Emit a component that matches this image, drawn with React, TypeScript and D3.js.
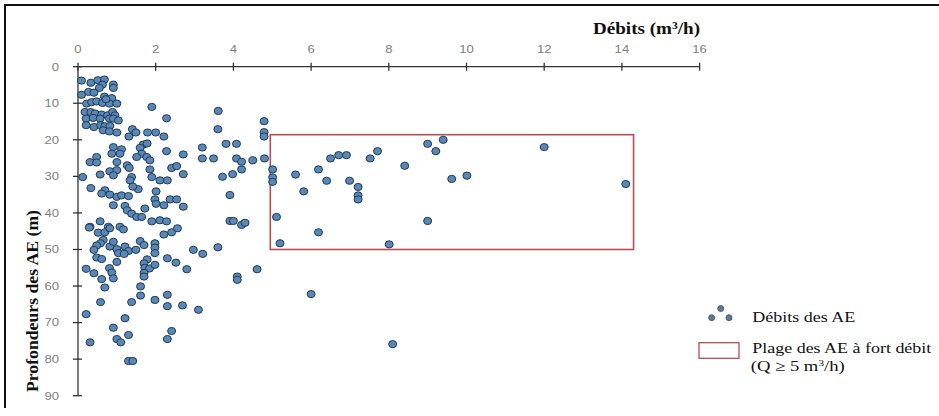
import React from "react";
import * as d3 from "d3";

// Débits (m3/h) and depths (m) of the AE wells
const debits: number[] = [
  0.09, 0.33, 0.51, 0.68, 0.63, 0.55, 0.91, 0.91, 0.09, 0.27, 0.41, 0.68, 0.87, 0.22, 0.35, 0.48, 0.63, 0.81, 1.0, 0.72,
  0.18, 0.33, 0.44, 0.61, 0.76, 0.89, 0.95, 0.81, 0.21, 0.39, 0.57, 0.91, 1.04, 0.21, 0.41, 0.58, 0.69, 0.82, 0.65, 0.81, 1.0,
  1.9, 2.28, 3.61, 3.6, 4.79, 4.79, 4.79,
  1.4, 1.49, 1.31, 1.79, 2.0, 2.21,
  0.91, 1.12, 1.08, 0.87,
  1.68, 1.78, 1.6, 1.64, 1.77, 1.85, 2.28, 1.51,
  0.48, 0.31, 0.48, 1.0, 1.27, 1.32,
  0.12, 0.57, 0.82, 1.0, 0.91, 1.38, 1.34, 1.85, 1.9, 2.11, 2.3, 2.41, 2.54,
  2.71, 3.2, 3.2, 3.49, 3.81, 4.08, 4.08, 4.21, 4.5, 4.8, 4.21, 3.98, 3.72, 2.71,
  0.33, 0.69, 0.61, 0.82, 1.0, 1.12, 1.3, 1.55, 2.01, 1.98, 2.01, 2.21, 2.37, 2.54, 0.91, 1.21, 1.27, 1.38, 1.51, 1.64, 1.72,
  1.9, 2.11, 2.28, 0.57, 0.31, 0.78, 1.08, 1.17,
  2.71, 3.91, 3.91, 4.0, 4.21, 4.3, 1.41,
  5.01, 5.01, 5.01, 5.6, 5.81, 6.19, 6.4, 6.5, 6.71, 6.91, 6.99, 7.21, 7.21, 7.21, 7.52, 7.71, 8.41, 9.0, 9.21, 9.4, 9.62,
  10.01, 5.11, 6.19, 5.2, 8.01, 9.0, 4.61, 6.0, 8.1, 12.0, 14.1,
  0.29, 0.52, 0.69, 0.82,
  0.65, 0.58, 0.48, 0.41, 0.48, 0.61,
  0.82, 0.91, 1.0, 1.04, 1.0, 1.21, 1.3, 1.49, 1.6, 1.19,
  1.7, 1.98, 1.98, 1.98, 2.21, 2.41, 2.56,
  0.21, 0.41, 0.61, 0.69, 0.81, 0.87, 0.91,
  1.78, 1.7, 1.72, 1.84, 1.7, 1.7, 1.98, 2.3, 2.52, 1.61, 1.61, 1.98, 2.3, 2.3, 1.38,
  0.58, 0.21, 0.91, 1.21, 1.0, 1.1, 1.3, 0.31,
  2.41, 2.3, 1.3, 1.41,
  2.97, 3.21, 3.6, 2.8, 4.1, 4.1, 3.1, 2.69,
];

const profondeurs: number[] = [
  3.8, 4.4, 3.7, 3.5, 4.9, 5.8, 4.9, 5.8, 7.7, 6.9, 7.1, 8.2, 8.6, 10.1, 9.7, 9.5, 9.9, 10.1, 10.1, 8.9,
  12.4, 12.4, 12.8, 13.1, 13.3, 12.4, 13.3, 14.2, 14.2, 14.0, 14.2, 14.2, 14.7, 16.0, 16.5, 16.0, 16.3, 16.2, 17.4, 17.7, 18.0,
  11.0, 14.1, 12.1, 17.1, 14.9, 17.9, 19.1,
  17.1, 18.0, 19.1, 18.0, 18.0, 19.1,
  22.0, 22.6, 23.8, 23.8,
  21.3, 21.0, 22.2, 23.8, 24.7, 25.6, 23.1, 24.7,
  24.7, 26.1, 26.2, 26.1, 27.0, 27.7,
  30.2, 29.5, 28.6, 28.3, 29.7, 30.2, 31.1, 28.1, 30.2, 31.1, 31.1, 27.7, 27.2,
  24.0, 22.1, 25.1, 25.1, 21.1, 21.1, 25.1, 26.0, 25.6, 25.1, 28.1, 29.4, 30.1, 29.4,
  33.2, 33.8, 34.7, 35.0, 35.6, 35.2, 35.4, 33.5, 34.1, 36.3, 37.5, 37.9, 36.3, 36.3, 37.9, 38.1, 39.3, 40.2, 41.1, 41.1, 38.8,
  42.3, 42.0, 42.3, 42.3, 43.8, 43.8, 43.8, 44.5,
  38.3, 35.1, 42.2, 42.2, 43.3, 42.7, 32.8,
  28.1, 30.3, 31.5, 29.5, 34.1, 28.1, 31.2, 25.1, 24.2, 24.2, 31.2, 32.9, 35.2, 36.3, 25.1, 23.1, 27.1, 21.1, 23.1, 20.0, 30.7,
  29.8, 41.1, 45.3, 48.3, 48.6, 42.2, 55.4, 62.2, 75.9, 22.0, 32.1,
  44.0, 45.4, 45.3, 44.2,
  47.4, 48.3, 48.9, 50.1, 52.2, 52.6,
  49.2, 47.9, 49.9, 51.0, 53.4, 49.2, 50.4, 50.1, 47.7, 51.2,
  48.8, 48.3, 49.5, 51.0, 45.9, 45.3, 44.2,
  55.3, 56.5, 58.1, 60.4, 55.1, 56.3, 57.9,
  52.7, 53.8, 55.0, 55.2, 56.4, 57.4, 54.2, 52.4, 53.6, 60.1, 62.6, 63.8, 62.4, 65.5, 64.4,
  64.4, 67.7, 71.4, 68.8, 74.5, 75.4, 73.4, 75.4,
  72.3, 74.5, 80.5, 80.5,
  50.1, 51.2, 49.4, 55.4, 57.4, 58.3, 66.5, 65.3,
];

const xTicks: number[] = [0, 2, 4, 6, 8, 10, 12, 14, 16];
const yTicks: number[] = [0, 10, 20, 30, 40, 50, 60, 70, 80, 90];

// high-flow range box (Q >= 5 m3/h)
const plageDebit: number[] = [4.95, 14.3];
const plageProf: number[] = [18.6, 50.0];

const W = 939;
const H = 416;

export default function App() {
  const x = d3.scaleLinear().domain([0, 16]).range([78, 699.6]);
  const y = d3.scaleLinear().domain([0, 90]).range([66.7, 395.7]);
  const axisColor = "#333";
  const tickColor = "#7f7f7f";
  const serif = "'Liberation Serif', 'Times New Roman', serif";
  const sans = "'Liberation Sans', Arial, sans-serif";

  return (
    <svg
      width={W}
      height={H}
      style={{ position: "absolute", left: 0, top: 0, background: "#fff" }}
    >
      <rect x={0} y={0} width={W} height={H} fill="#fff" />
      {/* frame */}
      <line x1={4} y1={5} x2={W} y2={5} stroke="#111" strokeWidth={2} />
      <line x1={5} y1={4} x2={5} y2={408} stroke="#111" strokeWidth={2} />

      {/* x axis (top) */}
      <line x1={x(0)} y1={y(0)} x2={x(16)} y2={y(0)} stroke={axisColor} strokeWidth={1.3} />
      {xTicks.map((t) => (
        <g key={"xt" + t}>
          <line x1={x(t)} x2={x(t)} y1={y(0) - 4} y2={y(0) + 4} stroke={axisColor} strokeWidth={1.3} />
          <text
            transform={`translate(${x(t)},${53}) scale(1.25,1)`}
            textAnchor="middle"
            fontFamily={sans}
            fontSize={10.5}
            fill={tickColor}
          >
            {t}
          </text>
        </g>
      ))}

      {/* y axis */}
      <line x1={x(0)} y1={y(0)} x2={x(0)} y2={y(90)} stroke={axisColor} strokeWidth={1.3} />
      {yTicks.map((t) => (
        <g key={"yt" + t}>
          <line x1={x(0) - 5} x2={x(0) + 4} y1={y(t)} y2={y(t)} stroke={axisColor} strokeWidth={1.3} />
          <text
            transform={`translate(59,${y(t) + 3.8}) scale(1.25,1)`}
            textAnchor="end"
            fontFamily={sans}
            fontSize={10.5}
            fill={tickColor}
          >
            {t}
          </text>
        </g>
      ))}

      {/* axis titles */}
      <text
        x={593}
        y={34.3}
        fontFamily={serif}
        fontWeight="bold"
        fontSize={16.5}
        fill="#111"
        textLength={107}
        lengthAdjust="spacingAndGlyphs"
      >
        Débits  (m<tspan baselineShift="super" fontSize={10}>3</tspan>/h)
      </text>
      <text
        transform={`translate(38,301) rotate(-90)`}
        textAnchor="middle"
        fontFamily={serif}
        fontWeight="bold"
        fontSize={16.5}
        fill="#111"
        textLength={182}
        lengthAdjust="spacingAndGlyphs"
      >
        Profondeurs des AE (m)
      </text>

      {/* high-flow box */}
      <rect
        x={x(plageDebit[0])}
        y={y(plageProf[0])}
        width={x(plageDebit[1]) - x(plageDebit[0])}
        height={y(plageProf[1]) - y(plageProf[0])}
        fill="none"
        stroke="#b84d55"
        strokeWidth={1.6}
      />

      {/* points */}
      {debits.map((v, i) => (
        <ellipse
          key={"p" + i}
          cx={x(v)}
          cy={y(profondeurs[i])}
          rx={4}
          ry={3.6}
          fill="#5b87b5"
          stroke="#1f3b5c"
          strokeWidth={1}
        />
      ))}

      {/* legend */}
      <g>
        <circle cx={711.7} cy={317.7} r={3} fill="#5e7891" stroke="#3a4f63" strokeWidth={0.8} />
        <circle cx={720.7} cy={308.5} r={3} fill="#5e7891" stroke="#3a4f63" strokeWidth={0.8} />
        <circle cx={729} cy={317.7} r={3} fill="#5e7891" stroke="#3a4f63" strokeWidth={0.8} />
        <text
          x={752.3}
          y={321.7}
          fontFamily={serif}
          fontSize={15}
          fill="#111"
          textLength={103}
          lengthAdjust="spacingAndGlyphs"
        >
          Débits des AE
        </text>
        <rect x={699} y={342.7} width={40} height={15.6} fill="none" stroke="#b84d55" strokeWidth={1.3} />
        <text
          x={752.3}
          y={352.7}
          fontFamily={serif}
          fontSize={15}
          fill="#111"
          textLength={179}
          lengthAdjust="spacingAndGlyphs"
        >
          Plage des AE à fort débit
        </text>
        <text
          x={750.7}
          y={370.7}
          fontFamily={serif}
          fontSize={15}
          fill="#111"
          textLength={94}
          lengthAdjust="spacingAndGlyphs"
        >
          (Q ≥ 5 m<tspan baselineShift="super" fontSize={9}>3</tspan>/h)
        </text>
      </g>
    </svg>
  );
}
